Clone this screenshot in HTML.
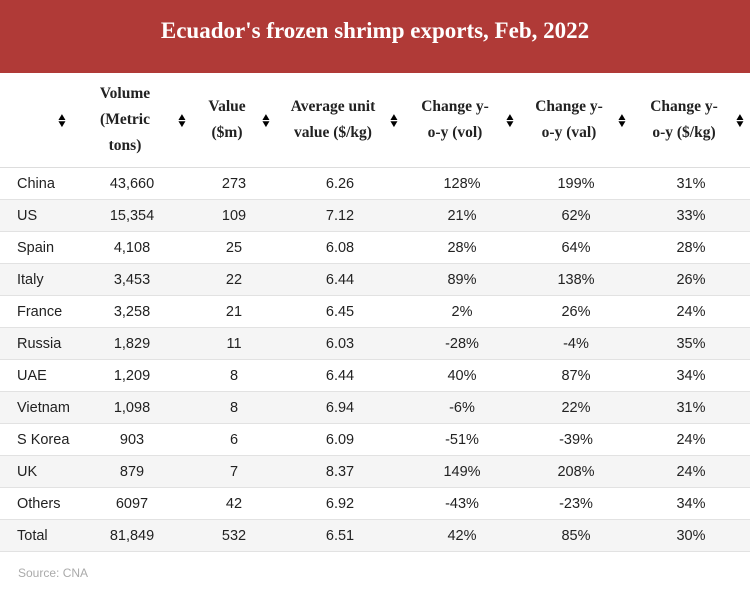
<!DOCTYPE html>
<html><head><meta charset="utf-8"><style>
body{margin:0;width:750px;height:591px;background:#fff;font-family:"Liberation Sans",sans-serif;overflow:hidden}
.t{height:73px;background:#b03a37;color:#fff;font-family:"Liberation Serif",serif;font-weight:bold;font-size:23px;text-align:center;line-height:62px}
table{border-collapse:collapse;width:750px;table-layout:fixed}
th{font-family:"Liberation Serif",serif;font-weight:bold;font-size:15.5px;color:#222;line-height:26px;height:94px;border-bottom:1px solid #ddd;position:relative;padding:0 18px 0 4px;text-align:center;white-space:nowrap}
th .s{position:absolute;right:5px;top:41px;font-size:10px;line-height:7px;color:#000;transform:scaleX(1.2)}
td{height:31px;border-bottom:1px solid #e2e2e2;text-align:center;font-size:14.5px;color:#222;padding:0}
td:first-child{text-align:left;padding-left:17px}
tr:nth-child(even) td{background:#f5f5f5}
.src{font-size:12px;color:#aaa;margin:14px 0 0 18px}
</style></head><body>
<div class="t">Ecuador's frozen shrimp exports, Feb, 2022</div>
<table>
<colgroup><col style="width:72px"><col style="width:120px"><col style="width:84px"><col style="width:128px"><col style="width:116px"><col style="width:112px"><col style="width:118px"></colgroup>
<thead><tr>
<th><span class="s">▲<br>▼</span></th>
<th>Volume<br>(Metric<br>tons)<span class="s">▲<br>▼</span></th>
<th>Value<br>($m)<span class="s">▲<br>▼</span></th>
<th>Average unit<br>value ($/kg)<span class="s">▲<br>▼</span></th>
<th>Change y-<br>o-y (vol)<span class="s">▲<br>▼</span></th>
<th>Change y-<br>o-y (val)<span class="s">▲<br>▼</span></th>
<th>Change y-<br>o-y ($/kg)<span class="s">▲<br>▼</span></th>
</tr></thead>
<tbody>
<tr><td>China</td><td>43,660</td><td>273</td><td>6.26</td><td>128%</td><td>199%</td><td>31%</td></tr>
<tr><td>US</td><td>15,354</td><td>109</td><td>7.12</td><td>21%</td><td>62%</td><td>33%</td></tr>
<tr><td>Spain</td><td>4,108</td><td>25</td><td>6.08</td><td>28%</td><td>64%</td><td>28%</td></tr>
<tr><td>Italy</td><td>3,453</td><td>22</td><td>6.44</td><td>89%</td><td>138%</td><td>26%</td></tr>
<tr><td>France</td><td>3,258</td><td>21</td><td>6.45</td><td>2%</td><td>26%</td><td>24%</td></tr>
<tr><td>Russia</td><td>1,829</td><td>11</td><td>6.03</td><td>-28%</td><td>-4%</td><td>35%</td></tr>
<tr><td>UAE</td><td>1,209</td><td>8</td><td>6.44</td><td>40%</td><td>87%</td><td>34%</td></tr>
<tr><td>Vietnam</td><td>1,098</td><td>8</td><td>6.94</td><td>-6%</td><td>22%</td><td>31%</td></tr>
<tr><td>S Korea</td><td>903</td><td>6</td><td>6.09</td><td>-51%</td><td>-39%</td><td>24%</td></tr>
<tr><td>UK</td><td>879</td><td>7</td><td>8.37</td><td>149%</td><td>208%</td><td>24%</td></tr>
<tr><td>Others</td><td>6097</td><td>42</td><td>6.92</td><td>-43%</td><td>-23%</td><td>34%</td></tr>
<tr><td>Total</td><td>81,849</td><td>532</td><td>6.51</td><td>42%</td><td>85%</td><td>30%</td></tr>
</tbody></table>
<div class="src">Source: CNA</div>
</body></html>
